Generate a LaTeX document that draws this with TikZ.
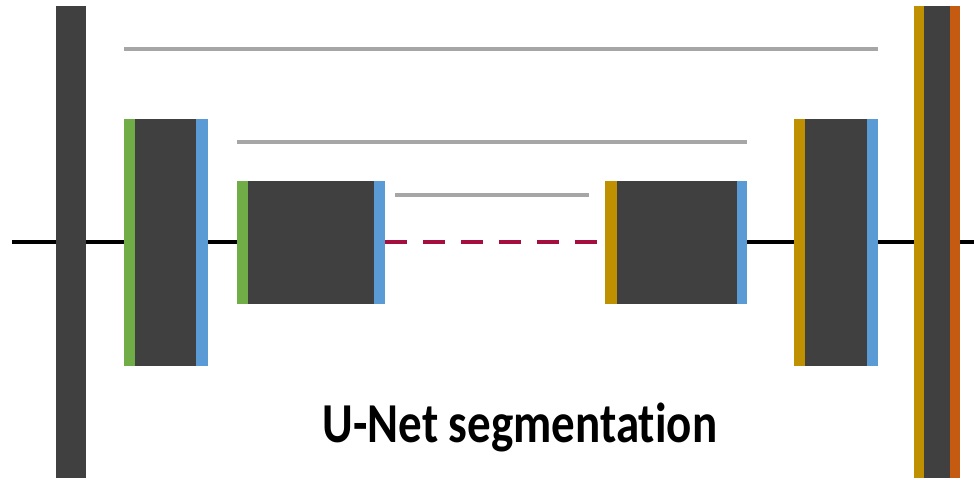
\documentclass[tikz,border=0pt]{standalone}
\usepackage{fontspec}
\setmainfont{Carlito}[Ligatures=NoCommon]
\usepackage{tikz}
\usetikzlibrary{positioning}
\definecolor{coregray}{HTML}{404040}
\definecolor{encgreen}{HTML}{70AD47}
\definecolor{poolblue}{HTML}{5B9BD5}
\definecolor{upgold}{HTML}{BF9000}
\definecolor{outorange}{HTML}{C55A11}
\definecolor{skipgray}{HTML}{A6A6A6}
\definecolor{bottleneck}{HTML}{A50F40}
\tikzset{
  part/.style={rectangle, inner sep=0pt, outer sep=0pt, draw=none},
  full/.style={minimum height=472pt},
  tall/.style={minimum height=247pt},
  short/.style={minimum height=123pt},
  flow/.style={line width=4pt, black},
  skipline/.style={line width=4.5pt, skipgray},
}
\begin{document}
\begin{tikzpicture}[x=1pt,y=-1pt]
\useasboundingbox (0,0) rectangle (974,479);
\node[part, full, fill=coregray, minimum width=30pt] (L) at (71,242) {};
\node[part, tall, fill=encgreen, minimum width=11pt] (g1) at (129.5,242) {};
\node[part, tall, fill=coregray, minimum width=61pt, right=0pt of g1] (c1) {};
\node[part, tall, fill=poolblue, minimum width=12pt, right=0pt of c1] (b1) {};
\node[part, short, fill=encgreen, minimum width=11pt] (g2) at (242.5,242) {};
\node[part, short, fill=coregray, minimum width=126pt, right=0pt of g2] (c2) {};
\node[part, short, fill=poolblue, minimum width=11pt, right=0pt of c2] (b2) {};
\node[part, short, fill=upgold, minimum width=12pt] (u3) at (611,242) {};
\node[part, short, fill=coregray, minimum width=120pt, right=0pt of u3] (c3) {};
\node[part, short, fill=poolblue, minimum width=10pt, right=0pt of c3] (b3) {};
\node[part, tall, fill=upgold, minimum width=11pt] (u4) at (799.5,242) {};
\node[part, tall, fill=coregray, minimum width=62pt, right=0pt of u4] (c4) {};
\node[part, tall, fill=poolblue, minimum width=11pt, right=0pt of c4] (b4) {};
\node[part, full, fill=upgold, minimum width=10pt] (uR) at (919,242) {};
\node[part, full, fill=coregray, minimum width=26pt, right=0pt of uR] (R) {};
\node[part, full, fill=outorange, minimum width=10pt, right=0pt of R] (oR) {};
\coordinate (in) at (12,242);
\coordinate (out) at (974,242);
\draw[flow] (in) -- (L);
\draw[flow] (L) -- (g1);
\draw[flow] (b1) -- (g2);
\draw[line width=4.5pt, bottleneck, dash pattern=on 22pt off 16pt] (b2) -- (u3);
\draw[flow] (b3) -- (u4);
\draw[flow] (b4) -- (uR);
\draw[flow] (oR) -- (out);
\draw[skipline] (g1.west |- 0,49) -- (b4.east |- 0,49);
\draw[skipline] (g2.west |- 0,142) -- (b3.east |- 0,142);
\draw[skipline] (395,195) -- (589,195);
\node[font=\bfseries\fontsize{47}{56}\selectfont, anchor=base, inner sep=0pt] (title) at (520,442) {\scalebox{1}[1.2]{U-Net segmentation}};
\end{tikzpicture}
\end{document}
